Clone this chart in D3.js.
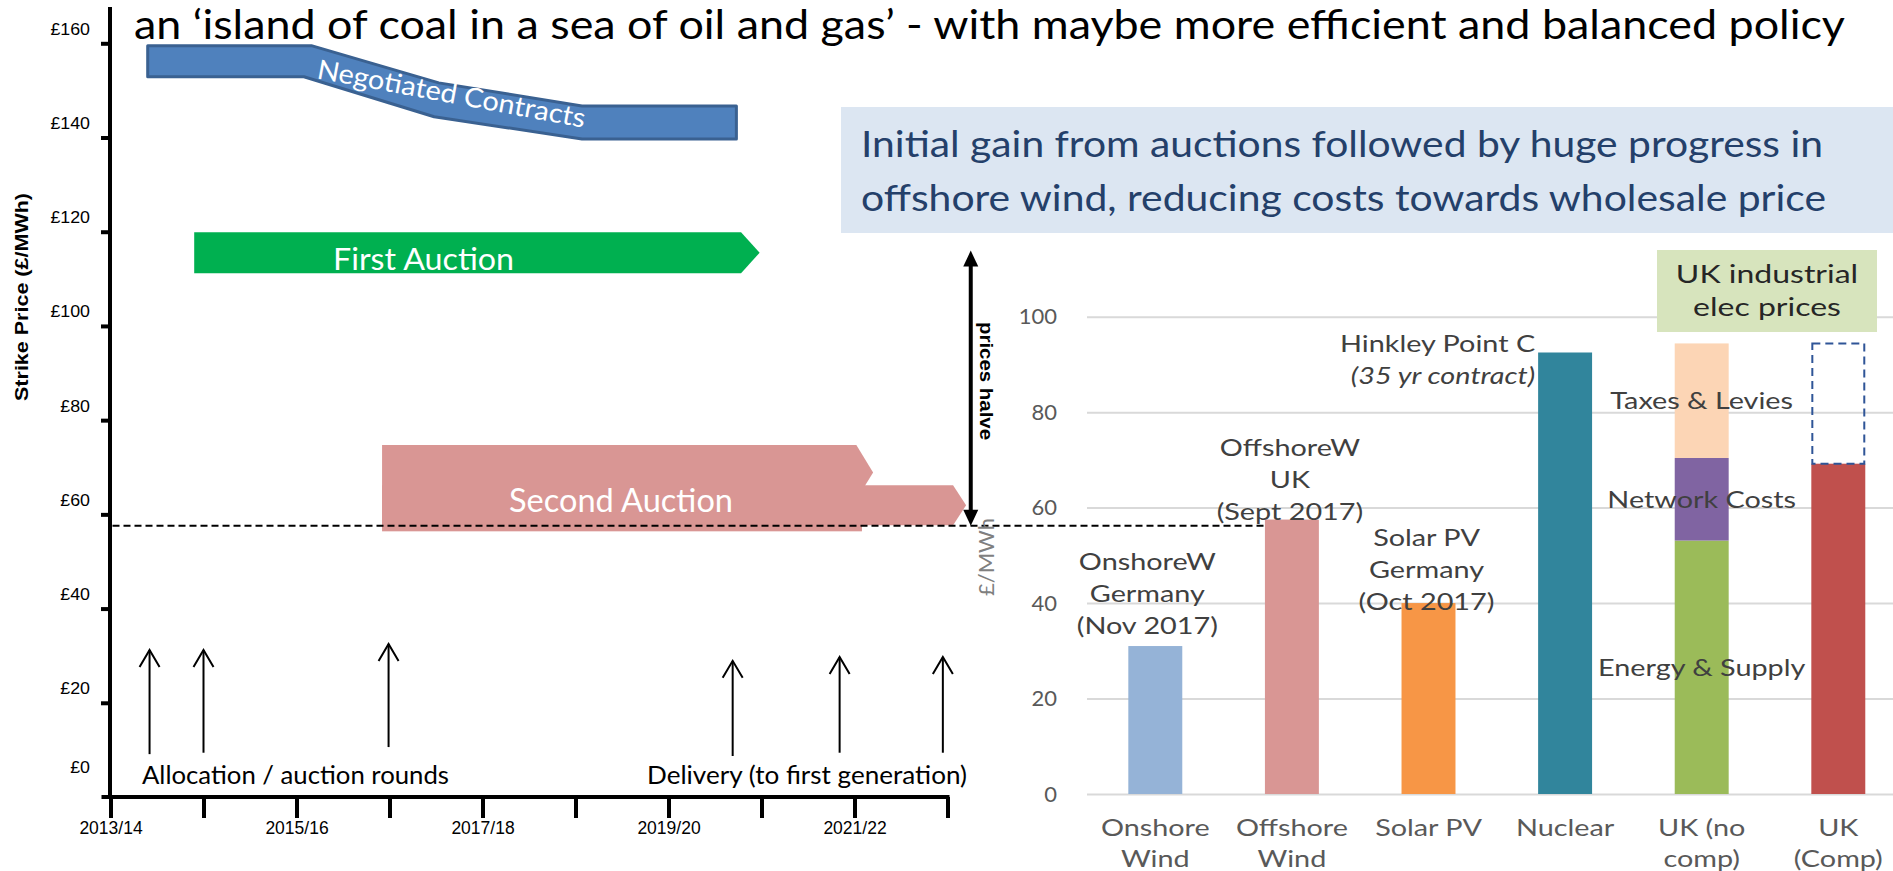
<!DOCTYPE html>
<html><head><meta charset="utf-8">
<script src="https://cdn.jsdelivr.net/npm/d3@7"></script>
<style>
html,body{margin:0;padding:0;background:#fff;overflow:hidden}
svg{display:block}
</style></head><body>
<svg id="chart" width="1893" height="871"></svg>
<script>
// ================= DATA =================
const titleText = "an ‘island of coal in a sea of oil and gas’ - with maybe more efficient and balanced policy";
const calloutLines = ["Initial gain from auctions followed by huge progress in",
                      "offshore wind, reducing costs towards wholesale price"];
const ukBoxLines = ["UK industrial", "elec prices"];

// ---- left chart: strike prices by year ----
const yearTicks = [2013, 2014, 2015, 2016, 2017, 2018, 2019, 2020, 2021, 2022];
const yearLabels = ["2013/14", "", "2015/16", "", "2017/18", "", "2019/20", "", "2021/22", ""];
const priceTicks = [0, 20, 40, 60, 80, 100, 120, 140, 160];
const priceLabels = ["£0", "£20", "£40", "£60", "£80", "£100", "£120", "£140", "£160"];
const yTitle = "Strike Price (£/MWh)";

// Negotiated contracts band [year, £/MWh]
const negTop    = [[2013.40, 159.5], [2015.16, 159.5], [2016.53, 151.6], [2018.07, 146.7], [2019.73, 146.7]];
const negBottom = [[2013.40, 152.9], [2015.08, 152.9], [2016.48, 144.4], [2018.07, 139.7], [2019.73, 139.7]];
const negLabel = "Negotiated Contracts";

// auction arrows: [startYear, endYear, tipYear, high, low]
const firstAuction = [2013.90, 2019.78, 2019.98, 119.9, 111.2];
const firstLabel = "First Auction";
const secondAuctionArrows = [[2015.92, 2021.02, 2021.20, 74.7, 63.1],
                             [2015.92, 2022.06, 2022.20, 66.2, 57.7]];
const secondAuctionBase = [2015.92, 2021.08, 63.1, 56.4]; // start, end, high, low
const secondLabel = "Second Auction";

const offshoreLevel = 57.6;       // dashed reference level
const halveYear = 2022.25, halveFrom = 116, halveTo = 57.6;
const halveLabel = "prices halve";

const allocationYears  = [2013.42, 2014.00, 2015.99];
const allocationTop    = [31.2, 31.2, 32.5];
const allocationBottom = [9.1, 9.4, 10.6];
const deliveryYears  = [2019.69, 2020.84, 2021.95];
const deliveryTop    = [28.9, 29.7, 29.7];
const deliveryBottom = [8.7, 9.4, 9.4];
const allocationText = "Allocation / auction rounds";
const deliveryText = "Delivery (to first generation)";

// ---- right chart: costs £/MWh ----
const categories = ["Onshore Wind", "Offshore Wind", "Solar PV", "Nuclear", "UK (no comp)", "UK (Comp)"];
const categoryLines = [["Onshore", "Wind"], ["Offshore", "Wind"], ["Solar PV"], ["Nuclear"], ["UK (no", "comp)"], ["UK", "(Comp)"]];
const singleBarCats = ["Onshore Wind", "Offshore Wind", "Solar PV", "Nuclear"];
const singleBarValues = [31, 57.5, 40, 92.5];
const singleBarColors = ["#95b3d7", "#d99694", "#f79646", "#31859c"];
const stackNames = ["Energy & Supply", "Network Costs", "Taxes & Levies"];
const ukNoCompValues = [53.1, 17.3, 24.0];
const stackColors = ["#9bbb59", "#8064a2", "#fcd5b5"];
const ukCompValue = 69.2;
const ukCompColor = "#c0504d";
const ukCompOutlineTop = 94.4;
const valueTicks = [0, 20, 40, 60, 80, 100];
const rightYTitle = "£/MWh";
const noteCats = ["Onshore Wind", "Offshore Wind", "Solar PV"];
const noteLines = [["OnshoreW", "Germany", "(Nov 2017)"], ["OffshoreW", "UK", "(Sept 2017)"], ["Solar PV", "Germany", "(Oct 2017)"]];
const noteBaseValues = [33.5, 57.4, 38.5];   // value at last line baseline
const hinkleyLines = ["Hinkley Point C", "(35 yr contract)"];

// ================= DRAW =================
const svg = d3.select("#chart");
const CAL = "Lato, 'Open Sans', sans-serif";
const ARI = "'Liberation Sans', Arial, sans-serif";

const xL = d3.scaleLinear().domain([2013, 2022]).range([110.5, 947.5]);
const yL = d3.scaleLinear().domain([0, 160]).range([797, 43.3]);
const xR = d3.scaleBand().domain(categories).range([1087, 1906.6]).paddingInner(0.605).paddingOuter(0.3025);
const yR = d3.scaleLinear().domain([0, 100]).range([794, 316.7]);

// horizontally stretched text helper (source typeface is wider than Lato)
function wtext(g, x, y, str, size, sx, anchor, fill, extra) {
  const t = g.append("text").attr("transform", `translate(${x},${y}) scale(${sx},1)`)
    .attr("text-anchor", anchor).attr("font-family", CAL).attr("font-size", size).attr("fill", fill).text(str);
  if (extra) extra(t);
  return t;
}

// Title
svg.append("text").attr("x", 134).attr("y", 39)
  .attr("font-family", CAL).attr("font-size", 40).attr("fill", "#000")
  .attr("textLength", 1711).attr("lengthAdjust", "spacingAndGlyphs")
  .text(titleText);

// Callout box
svg.append("rect").attr("x", 841).attr("y", 107).attr("width", 1060).attr("height", 126).attr("fill", "#dce6f2");
calloutLines.forEach((t, i) => {
  svg.append("text").attr("x", 861).attr("y", 157 + i * 54)
    .attr("font-family", CAL).attr("font-size", 36).attr("fill", "#24406a")
    .attr("textLength", i === 0 ? 962 : 965).attr("lengthAdjust", "spacingAndGlyphs")
    .text(t);
});

// ----- LEFT CHART -----
const gL = svg.append("g");

const yAxisL = d3.axisLeft(yL).tickValues(priceTicks.filter(v => v > 0)).tickSize(9).tickFormat("");
const gyL = gL.append("g").attr("transform", "translate(110,0)").call(yAxisL);
gyL.select(".domain").remove();
gyL.selectAll(".tick line").attr("stroke", "#000").attr("stroke-width", 4);
gL.append("line").attr("x1", 110).attr("x2", 110).attr("y1", 7).attr("y2", 799).attr("stroke", "#000").attr("stroke-width", 4);
priceTicks.forEach((v, i) => {
  gL.append("text").attr("transform", `translate(90,${yL(v) - (v === 0 ? 24 : 8.5)}) scale(1.08,1)`)
    .attr("text-anchor", "end").attr("font-family", ARI).attr("font-size", 16.5).attr("fill", "#000")
    .text(priceLabels[i]);
});
gL.append("text").attr("transform", `translate(28,297) rotate(-90)`)
  .attr("text-anchor", "middle").attr("font-family", ARI).attr("font-size", 18).attr("font-weight", "bold")
  .attr("textLength", 208).attr("lengthAdjust", "spacingAndGlyphs")
  .text(yTitle);

const xAxisL = d3.axisBottom(xL).tickValues(yearTicks).tickSize(21).tickSizeOuter(0).tickPadding(4)
  .tickFormat((d, i) => yearLabels[i]);
const gxL = gL.append("g").attr("transform", "translate(0,797)").call(xAxisL);
gxL.select(".domain").remove();
gxL.selectAll(".tick line").attr("stroke", "#000").attr("stroke-width", 4);
gxL.selectAll(".tick text").attr("font-family", ARI).attr("font-size", 17.5).attr("fill", "#000");
gL.append("line").attr("x1", 101.5).attr("x2", 949.5).attr("y1", 797).attr("y2", 797).attr("stroke", "#000").attr("stroke-width", 4);

// Negotiated contracts band
const negPts = negTop.concat(negBottom.slice().reverse()).map(d => [xL(d[0]), yL(d[1])]);
gL.append("polygon").attr("points", negPts.map(p => p.join(",")).join(" "))
  .attr("fill", "#4f81bd").attr("stroke", "#3a6191").attr("stroke-width", 3).attr("stroke-linejoin", "round");
gL.append("text").attr("transform", `translate(${xL(2015.21)},${yL(152.6)}) rotate(10.5)`)
  .attr("font-family", CAL).attr("font-size", 27).attr("fill", "#fff")
  .attr("textLength", 272).attr("lengthAdjust", "spacingAndGlyphs").text(negLabel);

function arrowPts(a) {
  const [s, e, t, hi, lo] = a; const mid = (hi + lo) / 2;
  return [[s, hi], [e, hi], [t, mid], [e, lo], [s, lo]].map(d => [xL(d[0]), yL(d[1])].join(",")).join(" ");
}
gL.append("polygon").attr("points", arrowPts(firstAuction)).attr("fill", "#00b050");
gL.append("text").attr("x", 423.5).attr("y", 270)
  .attr("text-anchor", "middle").attr("font-family", CAL).attr("font-size", 30).attr("fill", "#fff")
  .attr("textLength", 181).attr("lengthAdjust", "spacingAndGlyphs").text(firstLabel);

const pink = "#d99694";
gL.append("rect").attr("x", xL(secondAuctionBase[0])).attr("y", yL(secondAuctionBase[2]))
  .attr("width", xL(secondAuctionBase[1]) - xL(secondAuctionBase[0]))
  .attr("height", yL(secondAuctionBase[3]) - yL(secondAuctionBase[2])).attr("fill", pink);
secondAuctionArrows.forEach(a => gL.append("polygon").attr("points", arrowPts(a)).attr("fill", pink));
gL.append("text").attr("x", 621).attr("y", 511.5)
  .attr("text-anchor", "middle").attr("font-family", CAL).attr("font-size", 32).attr("fill", "#fff")
  .attr("textLength", 224).attr("lengthAdjust", "spacingAndGlyphs").text(secondLabel);

svg.append("line").attr("x1", xL(2013) + 2).attr("x2", xR("Offshore Wind"))
  .attr("y1", yL(offshoreLevel)).attr("y2", yL(offshoreLevel))
  .attr("stroke", "#000").attr("stroke-width", 2).attr("stroke-dasharray", "7,4");

const hx = xL(halveYear), hy1 = yL(halveFrom), hy2 = yL(halveTo);
gL.append("line").attr("x1", hx).attr("x2", hx).attr("y1", hy1 + 12).attr("y2", hy2 - 12)
  .attr("stroke", "#000").attr("stroke-width", 4);
gL.append("polygon").attr("points", `${hx},${hy1} ${hx - 7.5},${hy1 + 16} ${hx + 7.5},${hy1 + 16}`).attr("fill", "#000");
gL.append("polygon").attr("points", `${hx},${hy2} ${hx - 7.5},${hy2 - 16} ${hx + 7.5},${hy2 - 16}`).attr("fill", "#000");
gL.append("text").attr("transform", `translate(${hx + 9},322) rotate(90)`)
  .attr("font-family", ARI).attr("font-size", 17.5).attr("font-weight", "bold").attr("fill", "#000")
  .attr("textLength", 118).attr("lengthAdjust", "spacingAndGlyphs").text(halveLabel);

function upArrows(years, tops, bottoms) {
  years.forEach((yr, i) => {
    const x = xL(yr), yt = yL(tops[i]), yb = yL(bottoms[i]);
    gL.append("line").attr("x1", x).attr("x2", x).attr("y1", yb).attr("y2", yt).attr("stroke", "#000").attr("stroke-width", 2);
    gL.append("polyline").attr("points", `${x - 10},${yt + 17} ${x},${yt} ${x + 10},${yt + 17}`)
      .attr("fill", "none").attr("stroke", "#000").attr("stroke-width", 2);
  });
}
upArrows(allocationYears, allocationTop, allocationBottom);
upArrows(deliveryYears, deliveryTop, deliveryBottom);
gL.append("text").attr("x", 142).attr("y", 784).attr("font-family", CAL).attr("font-size", 25).attr("fill", "#000")
  .attr("textLength", 307).attr("lengthAdjust", "spacingAndGlyphs").text(allocationText);
gL.append("text").attr("x", 647).attr("y", 784).attr("font-family", CAL).attr("font-size", 25).attr("fill", "#000")
  .attr("textLength", 320).attr("lengthAdjust", "spacingAndGlyphs").text(deliveryText);

// ----- RIGHT CHART -----
const gR = svg.append("g");
const yAxisR = d3.axisLeft(yR).tickValues(valueTicks).tickSize(-(1893 - 1087)).tickPadding(30);
const gyR = gR.append("g").attr("transform", "translate(1087,0)").call(yAxisR);
gyR.select(".domain").remove();
gyR.selectAll(".tick line").attr("stroke", "#d9d9d9").attr("stroke-width", 2);
gyR.selectAll(".tick text").attr("font-family", CAL).attr("font-size", 22).attr("fill", "#595959");

gR.append("text").attr("transform", `translate(994,557) rotate(-90)`).attr("text-anchor", "middle")
  .attr("font-family", CAL).attr("font-size", 22).attr("fill", "#7f7f7f").text(rightYTitle);

const bw = xR.bandwidth();
gR.selectAll(".sbar").data(singleBarCats).enter().append("rect")
  .attr("x", d => xR(d)).attr("width", bw)
  .attr("y", (d, i) => yR(singleBarValues[i])).attr("height", (d, i) => yR(0) - yR(singleBarValues[i]))
  .attr("fill", (d, i) => singleBarColors[i]);
let acc = 0;
const stackData = ukNoCompValues.map((v, i) => { const s = { y0: acc, y1: acc + v, name: stackNames[i], color: stackColors[i] }; acc += v; return s; });
gR.selectAll(".stk").data(stackData).enter().append("rect")
  .attr("x", xR("UK (no comp)")).attr("width", bw)
  .attr("y", d => yR(d.y1)).attr("height", d => yR(d.y0) - yR(d.y1)).attr("fill", d => d.color);
gR.append("rect").attr("x", xR("UK (Comp)")).attr("width", bw)
  .attr("y", yR(ukCompValue)).attr("height", yR(0) - yR(ukCompValue)).attr("fill", ukCompColor);
gR.append("rect").attr("x", xR("UK (Comp)") + 1).attr("width", bw - 2)
  .attr("y", yR(ukCompOutlineTop)).attr("height", yR(ukCompValue) - yR(ukCompOutlineTop))
  .attr("fill", "none").attr("stroke", "#2f5597").attr("stroke-width", 2).attr("stroke-dasharray", "8,5");

const SX = 1.2, FS = 24;
stackData.forEach(d => {
  wtext(gR, xR("UK (no comp)") + bw / 2, yR((d.y0 + d.y1) / 2), d.name, FS, SX, "middle", "#404040", t => t.attr("dy", "0.35em"));
});
noteCats.forEach((c, i) => {
  const lines = noteLines[i]; const base = yR(noteBaseValues[i]);
  lines.forEach((t, j) => {
    wtext(gR, xR(c) + bw / 2 - (i === 0 ? 8 : 2), base - (lines.length - 1 - j) * 32, t, FS, SX, "middle", "#404040");
  });
});
hinkleyLines.forEach((t, j) => {
  wtext(gR, xR("Nuclear") - 3, yR(92.6) + j * 31.5, t, FS, SX, "end", "#404040",
    s => s.attr("font-style", j === 1 ? "italic" : "normal"));
});
categories.forEach((c, i) => {
  categoryLines[i].forEach((t, j) => {
    wtext(gR, xR(c) + bw / 2, 836 + j * 31, t, FS, SX, "middle", "#595959");
  });
});

const boxCx = (xR("UK (no comp)") + xR("UK (Comp)") + bw) / 2 - 3;
gR.append("rect").attr("x", boxCx - 110).attr("y", 250).attr("width", 220).attr("height", 82).attr("fill", "#d7e4bd");
ukBoxLines.forEach((t, j) => {
  wtext(gR, boxCx, 283 + j * 33, t, 25, 1.28, "middle", "#262626");
});
</script>
</body></html>
